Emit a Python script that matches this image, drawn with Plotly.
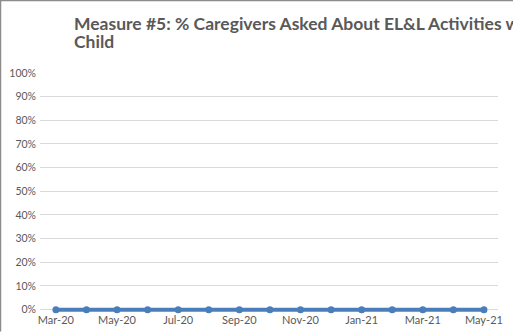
import plotly.graph_objects as go

# Monthly reporting periods and the share of caregivers asked (percent)
months = ["Mar-20", "Apr-20", "May-20", "Jun-20", "Jul-20", "Aug-20", "Sep-20",
          "Oct-20", "Nov-20", "Dec-20", "Jan-21", "Feb-21", "Mar-21", "Apr-21", "May-21"]
pct_asked = [0, 0, 0, 0, 0, 0, 0, 0, 0, 0, 0, 0, 0, 0, 0]

y_ticks = [0, 10, 20, 30, 40, 50, 60, 70, 80, 90, 100]
y_labels = [f"{v}%" for v in y_ticks]
x_tick_labels = months[::2]

W, H = 513, 332
Y_TOP_PX, Y_ZERO_PX = 73, 310          # pixel rows of 100% and 0%
Y_MIN = -1.0                           # a little room below zero so the line is not clipped
unit = (Y_ZERO_PX - Y_TOP_PX) / 100.0
bottom_px = Y_ZERO_PX - Y_MIN * unit

ML, MR, MT = 40, 15, Y_TOP_PX
MB = H - bottom_px
PW, PH = W - ML - MR, bottom_px - MT

def px_x(p):
    return (p - ML) / PW

def px_y(p):
    return (bottom_px - p) / PH

GREY_TXT = "#595959"
BLUE = "#4A7EBB"

fig = go.Figure()
fig.add_trace(go.Scatter(
    x=months, y=pct_asked, mode="lines+markers",
    line=dict(color=BLUE, width=4),
    marker=dict(color=BLUE, size=7, symbol="circle"),
    cliponaxis=False, showlegend=False, hoverinfo="x+y",
))

fig.update_layout(
    width=W, height=H,
    margin=dict(l=ML, r=MR, t=MT, b=MB, autoexpand=False),
    paper_bgcolor="white", plot_bgcolor="white",
    font=dict(family="Lato", color=GREY_TXT, size=11),
    xaxis=dict(
        type="category", categoryorder="array", categoryarray=months,
        range=[-0.52, 14.46], automargin=False,
        tickmode="array", tickvals=x_tick_labels, ticktext=x_tick_labels,
        showgrid=False, zeroline=False, showline=False, ticks="",
        tickfont=dict(family="Lato", size=11, color=GREY_TXT),
        ticklabelstandoff=0,
    ),
    yaxis=dict(
        range=[Y_MIN, 100], automargin=False,
        tickmode="array", tickvals=y_ticks, ticktext=y_labels,
        showgrid=True, gridcolor="#D9D9D9", gridwidth=1,
        zeroline=False, showline=False, ticks="",
        tickfont=dict(family="Lato", size=10.5, color=GREY_TXT),
        ticklabelstandoff=3,
    ),
    shapes=[
        dict(type="line", xref="paper", yref="paper",
             x0=px_x(0.5), x1=px_x(0.5), y0=px_y(0), y1=px_y(H),
             line=dict(color="#8C8C8C", width=1.5)),
        dict(type="line", xref="paper", yref="paper",
             x0=px_x(0), x1=px_x(W), y0=px_y(0.5), y1=px_y(0.5),
             line=dict(color="#8C8C8C", width=1.5)),
    ],
    annotations=[
        dict(text="<b>Measure #5: % Caregivers Asked About EL&L Activities with</b>",
             xref="paper", yref="paper", x=px_x(72), y=px_y(23),
             xanchor="left", yanchor="middle", showarrow=False,
             font=dict(family="Lato", size=17.5, color=GREY_TXT)),
        dict(text="<b>Child</b>",
             xref="paper", yref="paper", x=px_x(72), y=px_y(41),
             xanchor="left", yanchor="middle", showarrow=False,
             font=dict(family="Lato", size=17.5, color=GREY_TXT)),
    ],
)

fig.write_html("out.html")
